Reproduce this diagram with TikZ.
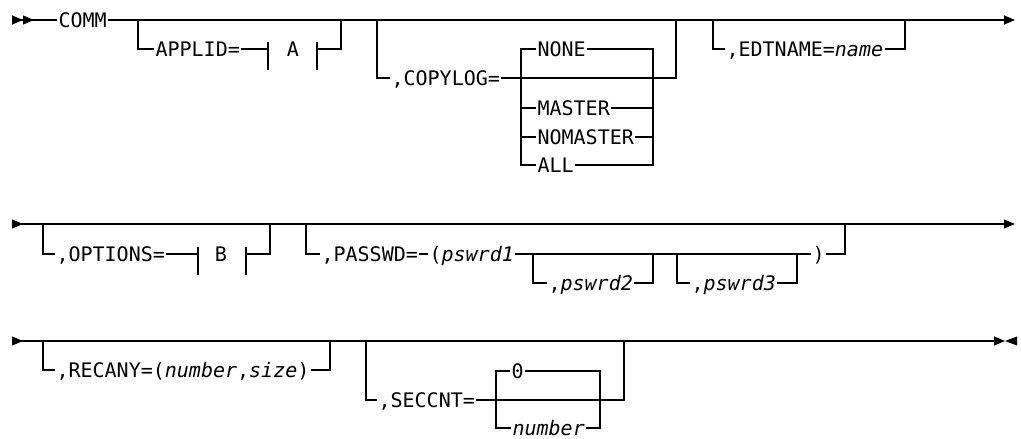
\documentclass[tikz,border=0pt]{standalone}
\usepackage{fontspec}
\setmonofont{DejaVu Sans Mono}
\usetikzlibrary{arrows.meta}
\tikzset{rtip/.tip={Triangle[length=11pt,width=9pt]},
  ltip/.tip={Triangle[length=11pt,width=9pt,reversed]}}
\begin{document}
\begin{tikzpicture}[x=1pt,y=-1pt,line width=1.1pt,
  every node/.style={font=\ttfamily\fontsize{20pt}{24pt}\selectfont,inner xsep=1pt,inner ysep=0pt,text height=14.6pt,text depth=0pt,anchor=west},
  frag/.style={anchor=center}]
  \useasboundingbox (0,0) rectangle (1021,439);
  \node (comm) at (57,20) {COMM};
  \node (applid) at (154,49) {APPLID=};
  \node[frag] (fraga) at (293,49) {A};
  \node (copylog) at (390,78) {,COPYLOG=};
  \node (none) at (536,49) {NONE};
  \node (master) at (536,108) {MASTER};
  \node (nomaster) at (536,137) {NOMASTER};
  \node (all) at (536,165) {ALL};
  \node (edtname) at (725,49) {,EDTNAME=\textit{name}};
  \draw[{ltip[]ltip[]}-] (12,20) -- (comm.west);
  \draw[-rtip] (comm.east) -- (1015,20);
  \draw (138,20) |- (applid.west);
  \draw (applid.east) -- (268,49);
  \draw (268,42) -- (268,70) (317,42) -- (317,70);
  \draw (317,49) -| (341,20);
  \draw (377,20) |- (copylog.west);
  \draw (copylog.east) -| (676,20);
  \draw (none.west) -| (521,165) -- (all.west);
  \draw (none.east) -| (653,165) -- (all.east);
  \draw (521,108) -- (master.west) (master.east) -- (653,108);
  \draw (521,137) -- (nomaster.west) (nomaster.east) -- (653,137);
  \draw (713,20) |- (edtname.west);
  \draw (edtname.east) -| (905,20);
  \node (options) at (55,254) {,OPTIONS=};
  \node[frag] (fragb) at (221,254) {B};
  \node (passwd) at (320,254) {,PASSWD=};
  \node (pswrda) at (428,254) {(\textit{pswrd1}};
  \node (rparen) at (811,254) {)};
  \node (pswrdb) at (547,283) {,\textit{pswrd2}};
  \node (pswrdc) at (690,283) {,\textit{pswrd3}};
  \draw[ltip-rtip] (12,224) -- (1015,224);
  \draw (43,224) |- (options.west);
  \draw (options.east) -- (198,254);
  \draw (198,247) -- (198,275) (246,247) -- (246,275);
  \draw (246,254) -| (270,224);
  \draw (306,224) |- (passwd.west);
  \draw (passwd.east) -- (pswrda.west);
  \draw (pswrda.east) -- (rparen.west);
  \draw (rparen.east) -| (845,224);
  \draw (533,254) |- (pswrdb.west);
  \draw (pswrdb.east) -| (653,254);
  \draw (677,254) |- (pswrdc.west);
  \draw (pswrdc.east) -| (797,254);
  \node (recany) at (55,370) {,RECANY=(\textit{number},\textit{size})};
  \node (seccnt) at (377,400) {,SECCNT=};
  \node (zero) at (510,371) {0};
  \node (number) at (511,428) {\textit{number}};
  \draw[ltip-rtip] (12,341) -- (1005,341);
  \fill (1005,341) -- (1017,336.5) -- (1017,345.5) -- cycle;
  \draw (43,341) |- (recany.west);
  \draw (recany.east) -| (330,341);
  \draw (366,341) |- (seccnt.west);
  \draw (seccnt.east) -| (624,341);
  \draw (zero.west) -| (496,428) -- (number.west);
  \draw (zero.east) -| (600,428) -- (number.east);
  \draw[line width=1.4pt] (631,340.5) -- (651,340.5);
\end{tikzpicture}
\end{document}
